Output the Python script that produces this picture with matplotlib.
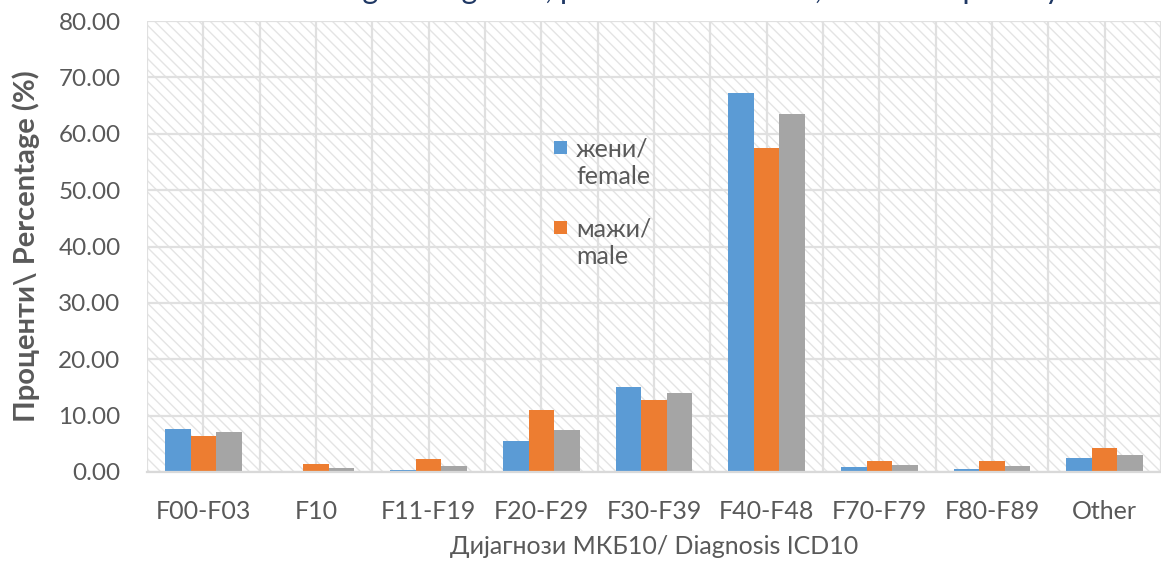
import matplotlib
matplotlib.use("Agg")
import matplotlib.pyplot as plt
from matplotlib.patches import Rectangle
import numpy as np

categories = ["F00-F03", "F10", "F11-F19", "F20-F29", "F30-F39",
              "F40-F48", "F70-F79", "F80-F89", "Other"]
female = [7.6, 0.0, 0.3, 5.5, 15.0, 67.2, 0.9, 0.5, 2.5]
male = [6.4, 1.5, 2.3, 11.0, 12.8, 57.4, 1.95, 1.95, 4.2]
total = [7.1, 0.65, 1.05, 7.5, 14.1, 63.5, 1.3, 1.0, 3.1]
yticks = [0, 10, 20, 30, 40, 50, 60, 70, 80]

title = "Treated according to diagnosis, per sex and in total, at the hospital by ward"
xlabel = "Дијагнози МКБ10/ Diagnosis ICD10"
ylabel = "Проценти\\ Percentage (%)"
legend_labels = ["жени/\nfemale", "мажи/\nmale"]

C_BLUE = "#5B9BD5"
C_ORANGE = "#ED7D31"
C_GRAY = "#A5A5A5"
TXT = "#595959"

plt.rcParams["font.family"] = ["Lato", "Noto Sans", "DejaVu Sans"]
plt.rcParams["hatch.linewidth"] = 1.0

W, H = 1161, 562
fig = plt.figure(figsize=(W / 100, H / 100), dpi=100)
left, right, bottom, top = 147, 1161, 472, 21
ax = fig.add_axes([left / W, 1 - bottom / H, (right - left) / W, (bottom - top) / H])

# hatched plot background
bg = Rectangle((0, 0), 1, 1, transform=ax.transAxes, facecolor="white",
               edgecolor="#E4E4E4", hatch="\\\\\\", linewidth=0, zorder=0.1)
ax.add_patch(bg)
ax.set_facecolor("white")

x = np.arange(len(categories))
w = 0.227
ax.bar(x - w, female, w, color=C_BLUE, zorder=2, label="жени/ female")
ax.bar(x, male, w, color=C_ORANGE, zorder=2, label="мажи/ male")
ax.bar(x + w, total, w, color=C_GRAY, zorder=2, label="вкупно/ total")

ax.set_xlim(-0.5, len(categories) - 0.5)
ax.set_ylim(0, 80)
ax.set_yticks(yticks)
ax.set_yticklabels([f"{v:.2f}" for v in yticks])
ax.set_xticks(x)
ax.set_xticklabels(categories)
ax.set_xticks(np.arange(-0.5, len(categories), 1.0), minor=True)

ax.set_axisbelow(True)
ax.grid(True, which="both", axis="x", color="#E0E0E0", linewidth=1.6, zorder=0.5)
ax.grid(True, which="major", axis="y", color="#E0E0E0", linewidth=1.6, zorder=0.5)

for s in ["top", "right", "left"]:
    ax.spines[s].set_visible(False)
ax.spines["bottom"].set_color("#D9D9D9")
ax.spines["bottom"].set_linewidth(1.6)

ax.tick_params(axis="both", which="both", length=0, labelcolor=TXT)
ax.tick_params(axis="y", pad=19, labelsize=17.5)
ax.tick_params(axis="x", pad=20, labelsize=18)

ax.set_xlabel(xlabel, fontsize=18, color=TXT, labelpad=9)
ax.set_ylabel(ylabel, fontsize=21, color=TXT, fontweight="bold")
ax.yaxis.set_label_coords(-(left - 40) / (right - left), 0.5)

# title (clipped at top edge as in the reference: only descenders show)
fig.text(636 / W, 1 + 1.0 / H, title, ha="center", va="baseline",
         fontsize=22, color="#1F3864")

# legend (handles aligned with first line of each label)
leg_items = [(C_BLUE, legend_labels[0], 147, 178), (C_ORANGE, legend_labels[1], 227, 258)]
for col, lab, py1, py2 in leg_items:
    fig.patches.append(Rectangle((554 / W, 1 - (py1 + 7) / H), 13 / W, 13 / H,
                                 transform=fig.transFigure, facecolor=col,
                                 edgecolor="none", figure=fig))
    fig.text(576 / W, 1 - ((py1 + py2) / 2) / H, lab, ha="left", va="center",
             fontsize=18, color=TXT, linespacing=1.25)

fig.savefig("out.png", dpi=100)
